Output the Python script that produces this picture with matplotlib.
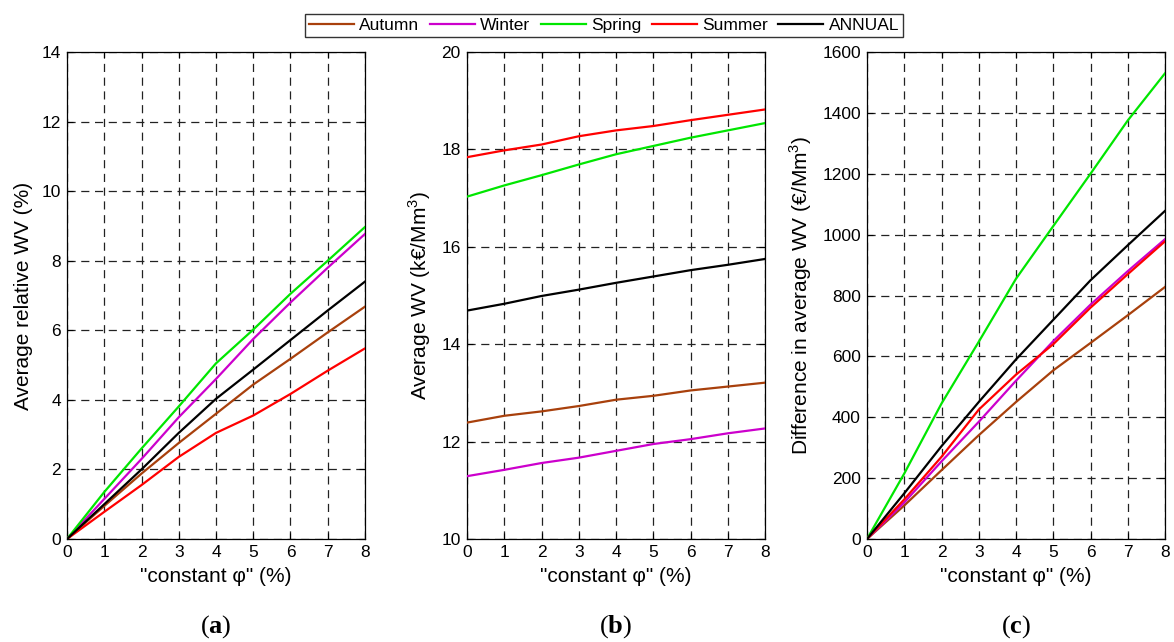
import matplotlib
matplotlib.use("Agg")
import matplotlib.pyplot as plt
import numpy as np

plt.rcParams['font.family'] = ['Liberation Sans', 'DejaVu Sans']
plt.rcParams['mathtext.fontset'] = 'custom'
plt.rcParams['mathtext.rm'] = 'Liberation Serif'
plt.rcParams['mathtext.bf'] = 'Liberation Serif:bold'
plt.rcParams['mathtext.sf'] = 'Liberation Sans'

phi = [0, 1, 2, 3, 4, 5, 6, 7, 8]
series_names = ["Autumn", "Winter", "Spring", "Summer", "ANNUAL"]
series_colors = ["#A8400C", "#CC00CC", "#00E600", "#FF0000", "#000000"]

# (a) Average relative WV (%)
rel_autumn = [0, 0.95, 1.88, 2.76, 3.60, 4.44, 5.18, 5.94, 6.68]
rel_winter = [0, 1.15, 2.30, 3.50, 4.60, 5.75, 6.80, 7.80, 8.77]
rel_spring = [0, 1.35, 2.60, 3.81, 5.05, 6.02, 7.05, 8.00, 8.97]
rel_summer = [0, 0.78, 1.55, 2.36, 3.05, 3.55, 4.17, 4.84, 5.48]
rel_annual = [0, 1.00, 2.00, 3.05, 4.03, 4.87, 5.72, 6.57, 7.40]

# (b) Average WV (k€/Mm3)
avg_autumn = [12.39, 12.53, 12.62, 12.73, 12.86, 12.94, 13.05, 13.13, 13.21]
avg_winter = [11.29, 11.42, 11.56, 11.67, 11.81, 11.95, 12.05, 12.17, 12.27]
avg_spring = [17.03, 17.26, 17.47, 17.69, 17.90, 18.07, 18.24, 18.39, 18.54]
avg_summer = [17.84, 17.98, 18.10, 18.27, 18.39, 18.48, 18.60, 18.71, 18.82]
avg_annual = [14.69, 14.83, 14.99, 15.12, 15.26, 15.39, 15.52, 15.63, 15.75]

# (c) Difference in average WV (€/Mm3)
dif_autumn = [0, 110, 226, 341, 450, 554, 644, 735, 828]
dif_winter = [0, 120, 255, 385, 520, 650, 770, 880, 985]
dif_spring = [0, 215, 445, 648, 855, 1028, 1200, 1375, 1530]
dif_summer = [0, 130, 270, 425, 540, 640, 760, 870, 978]
dif_annual = [0, 150, 305, 450, 590, 720, 850, 965, 1078]

panels = [
    ([rel_autumn, rel_winter, rel_spring, rel_summer, rel_annual], (0, 14), np.arange(0, 15, 2),
     "Average relative WV (%)", "a"),
    ([avg_autumn, avg_winter, avg_spring, avg_summer, avg_annual], (10, 20), np.arange(10, 21, 2),
     r"Average WV (k€/Mm$^{\mathsf{3}}$)", "b"),
    ([dif_autumn, dif_winter, dif_spring, dif_summer, dif_annual], (0, 1600), np.arange(0, 1601, 200),
     r"Difference in average WV (€/Mm$^{\mathsf{3}}$)", "c"),
]

W, H = 1174, 642
fig = plt.figure(figsize=(W / 100, H / 100), dpi=100)

lefts = [67, 467, 867]
right_w = 298
top, bottom = 52, 539

handles = []
for i, (data, ylim, yticks, ylabel, tag) in enumerate(panels):
    l = lefts[i]
    ax = fig.add_axes([l / W, 1 - bottom / H, right_w / W, (bottom - top) / H])
    for vals, name, col in zip(data, series_names, series_colors):
        h, = ax.plot(phi, vals, color=col, lw=1.6, label=name, zorder=3)
        if i == 0:
            handles.append(h)
    ax.set_xlim(0, 8)
    ax.set_ylim(*ylim)
    ax.set_xticks(range(0, 9))
    ax.set_yticks(yticks)
    ax.grid(True, color='#222222', linestyle=(0, (6.5, 4.5)), linewidth=0.9)
    ax.tick_params(direction='in', length=4, labelsize=12.5, top=True, right=True, pad=4.5)
    for s in ax.spines.values():
        s.set_linewidth(0.9)
    ax.set_xlabel('"constant φ" (%)', fontsize=15, labelpad=5)
    ax.set_ylabel(ylabel, fontsize=15, labelpad=6)
    cx = (l + right_w / 2) / W
    fig.text(cx, 1 - 627 / H, r"$\mathrm{(}\mathbf{%s}\mathrm{)}$" % tag, ha='center', va='center',
             fontsize=19)

leg = fig.legend(handles=handles, labels=series_names, loc='center', ncol=5,
                 bbox_to_anchor=(604 / W, 1 - 25.5 / H), frameon=True, fancybox=False,
                 edgecolor='black', fontsize=12.5, handlelength=2.6, columnspacing=0.6,
                 handletextpad=0.3, borderpad=0.25, borderaxespad=0)
leg.get_frame().set_linewidth(1.0)

fig.savefig("out.png", dpi=100)
